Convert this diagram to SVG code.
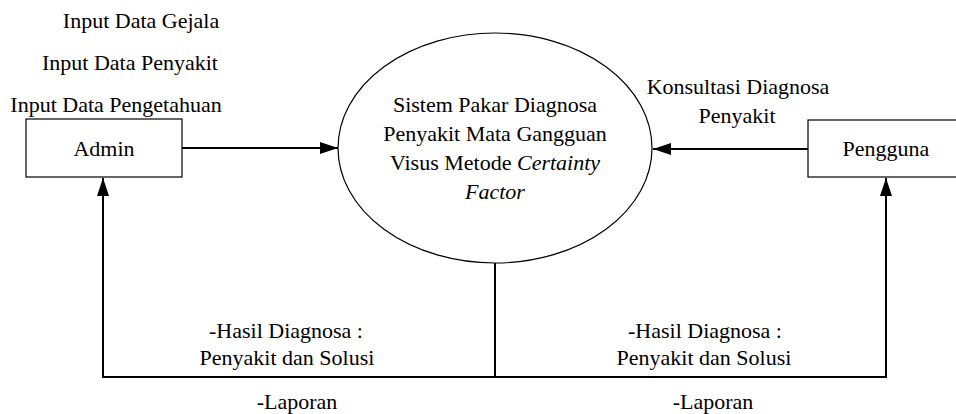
<svg xmlns="http://www.w3.org/2000/svg" width="956" height="414" viewBox="0 0 956 414">
  <style>
    text { font-family: 'Liberation Serif', 'DejaVu Serif', serif; font-size: 22px; fill: #000; text-anchor: middle; }
    .box { fill: #fff; stroke: #000; stroke-width: 1.2; }
    .flow { fill: none; stroke: #000; stroke-width: 2; }
  </style>
  <defs>
    <marker id="arrow" viewBox="0 0 18 12" refX="18" refY="6" markerWidth="18" markerHeight="12" markerUnits="userSpaceOnUse" orient="auto">
      <path d="M0,0 L18,6 L0,12 Z" fill="#000"/>
    </marker>
  </defs>
  <rect width="956" height="414" fill="#fff"/>

  <!-- flows -->
  <g id="connectors">
    <line class="flow" x1="182" y1="148" x2="338" y2="148" marker-end="url(#arrow)"/>
    <line class="flow" x1="808" y1="149" x2="653" y2="149" marker-end="url(#arrow)"/>
    <line class="flow" x1="495" y1="263" x2="495" y2="377"/>
    <line class="flow" x1="102" y1="377" x2="887" y2="377"/>
    <line class="flow" x1="103" y1="377" x2="103" y2="178" marker-end="url(#arrow)"/>
    <line class="flow" x1="886" y1="377" x2="886" y2="178" marker-end="url(#arrow)"/>
  </g>

  <!-- external entity: Admin -->
  <g id="admin">
    <rect class="box" x="26" y="119" width="156" height="58"/>
    <text x="104" y="156" font-family="Liberation Serif, serif">Admin</text>
  </g>

  <!-- process -->
  <g id="sistem">
    <ellipse class="box" cx="495" cy="148" rx="157" ry="115"/>
    <text x="495" y="112">Sistem Pakar Diagnosa</text>
    <text x="495" y="141">Penyakit Mata Gangguan</text>
    <text x="495" y="170">Visus Metode <tspan font-style="italic">Certainty</tspan></text>
    <text x="495" y="199" font-style="italic">Factor</text>
  </g>

  <!-- external entity: Pengguna -->
  <g id="pengguna">
    <rect class="box" x="808" y="120" width="156" height="57"/>
    <text x="886" y="156">Pengguna</text>
  </g>

  <!-- flow labels -->
  <g id="labels">
    <text x="141" y="28">Input Data Gejala</text>
    <text x="130" y="70">Input Data Penyakit</text>
    <text x="116" y="112">Input Data Pengetahuan</text>
    <text x="738" y="94">Konsultasi Diagnosa</text>
    <text x="737" y="123">Penyakit</text>
    <text x="286" y="338">-Hasil Diagnosa :</text>
    <text x="287" y="365">Penyakit dan Solusi</text>
    <text x="297" y="409">-Laporan</text>
    <text x="705" y="338">-Hasil Diagnosa :</text>
    <text x="704" y="365">Penyakit dan Solusi</text>
    <text x="713" y="409">-Laporan</text>
  </g>
</svg>
